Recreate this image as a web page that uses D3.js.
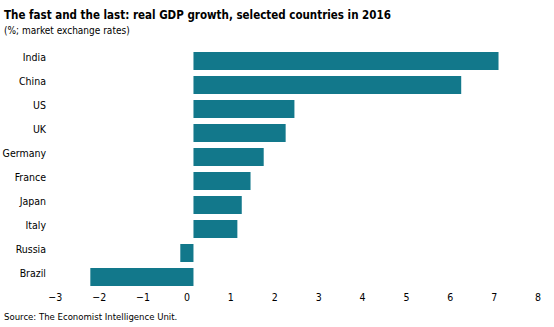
<!DOCTYPE html>
<html>
<head>
<meta charset="utf-8">
<script src="https://cdn.jsdelivr.net/npm/d3@7"></script>
<style>
  body { margin: 0; background: #fff; }
  text { font-family: "DejaVu Sans Condensed", "Liberation Sans Narrow", sans-serif; fill: #000; }
</style>
</head>
<body>
<div class="canvas"></div>
<script>
// data
const countries = ["India", "China", "US", "UK", "Germany", "France", "Japan", "Italy", "Russia", "Brazil"];
const growth = [6.95, 6.1, 2.3, 2.1, 1.6, 1.3, 1.1, 1.0, -0.3, -2.35];
const ticks = [-3, -2, -1, 0, 1, 2, 3, 4, 5, 6, 7, 8];

const data = countries.map((c, i) => ({ country: c, value: growth[i] }));

const svg = d3.select(".canvas").append("svg").attr("width", 554).attr("height", 327);

// titles
svg.append("text").attr("x", 4).attr("y", 19)
  .style("font-size", "11.5px").style("font-weight", "bold")
  .text("The fast and the last: real GDP growth, selected countries in 2016");
svg.append("text").attr("x", 4).attr("y", 34)
  .style("font-size", "10px")
  .text("(%; market exchange rates)");

const x = d3.scaleLinear().domain([-3, 8]).range([61.8, 544.6]);
const y = d3.scaleBand().domain(countries).range([49, 289]).paddingInner(0.25).paddingOuter(0.125);

// bars
svg.selectAll("rect").data(data).enter().append("rect")
  .attr("x", d => x(Math.min(0, d.value)))
  .attr("y", d => y(d.country))
  .attr("width", d => Math.abs(x(d.value) - x(0)))
  .attr("height", y.bandwidth())
  .attr("fill", "#12788b");

// category labels
svg.selectAll(".cat").data(data).enter().append("text")
  .attr("class", "cat")
  .attr("x", 46)
  .attr("y", d => y(d.country) + 8.5)
  .attr("text-anchor", "end")
  .style("font-size", "10.5px")
  .text(d => d.country);

// x axis labels (no line)
const xAxis = svg.append("g").attr("transform", "translate(0,301)")
  .call(d3.axisBottom(x).tickValues(ticks).tickSize(0).tickPadding(0));
xAxis.select(".domain").remove();
xAxis.selectAll("text")
  .attr("dx", -7).attr("dy", 0)
  .style("font-size", "10.5px")
  .style("font-family", "'DejaVu Sans Condensed', sans-serif")
  .attr("fill", "#000");

svg.append("text").attr("x", 4).attr("y", 320)
  .style("font-size", "9.5px")
  .text("Source: The Economist Intelligence Unit.");
</script>
</body>
</html>
